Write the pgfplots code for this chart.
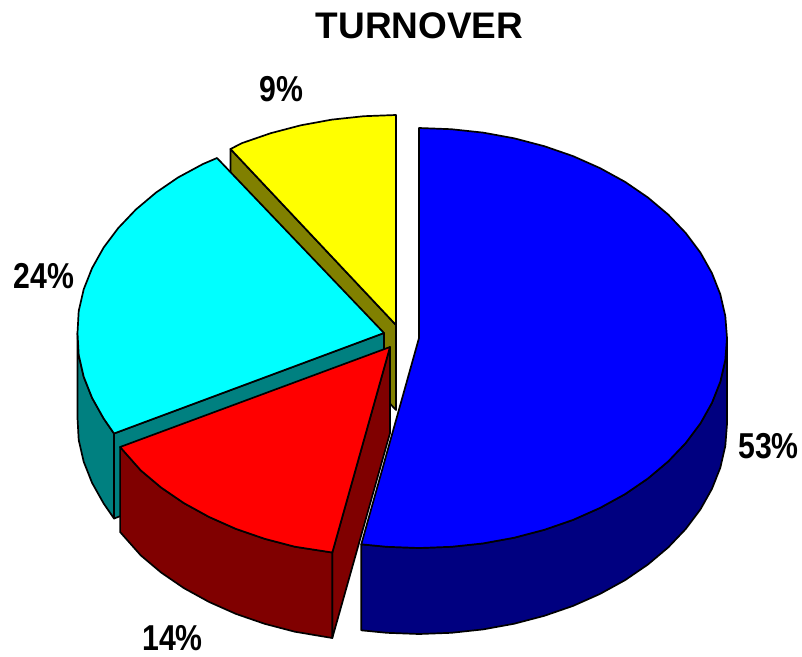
\documentclass[border=0pt]{standalone}
\usepackage{fontspec}
\setmainfont{Liberation Sans}
\usepackage{pgfplots}
\pgfplotsset{compat=1.18}
\definecolor{pblue}{HTML}{0000FF}
\definecolor{pnavy}{HTML}{000080}
\definecolor{pred}{HTML}{FF0000}
\definecolor{pmaroon}{HTML}{800000}
\definecolor{pcyan}{HTML}{00FFFF}
\definecolor{pteal}{HTML}{008080}
\definecolor{pyellow}{HTML}{FFFF00}
\definecolor{polive}{HTML}{808000}
\newcommand{\lab}[1]{\scalebox{.84}[1]{\bfseries\fontsize{36}{36}\selectfont #1}}
\begin{document}
\begin{tikzpicture}
\useasboundingbox (0,0) rectangle (802pt,656pt);
\begin{axis}[
  at={(0,0)}, anchor=south west,
  width=802pt, height=656pt, scale only axis,
  xmin=0, xmax=802, ymin=0, ymax=656, y dir=reverse,
  hide axis, clip=false,
  every axis plot/.append style={draw=black, line width=1.7pt, line join=round, mark=none},
]
% yellow 9%
\addplot[fill=polive] coordinates {(396,325) (230.5,149) (230.5,234) (396,410)} --cycle;
\addplot[fill=pyellow] coordinates {(396,325) (230.5,149) (242,143.1) (270.7,133.2) (300.8,125.3) (332,119.6) (363.8,116.2) (396,115)} --cycle;
% cyan 24%
\addplot[fill=pteal] coordinates {(114,433.5) (103.6,418.4) (92.1,397.9) (83.7,376.7) (78.7,354.95) (77.5,333) (77.5,418) (78.7,439.95) (83.7,461.7) (92.1,482.9) (103.6,503.4) (114,518.5)} --cycle;
\addplot[fill=pteal] coordinates {(384,333) (114,433.5) (114,518.5) (384,418)} --cycle;
\addplot[fill=pcyan] coordinates {(384,333) (114,433.5) (103.6,418.4) (92.1,397.9) (83.7,376.7) (78.7,354.95) (77.5,333) (78.7,311.05) (83.7,289.3) (92.1,268.1) (103.6,247.6) (118.3,228) (135.8,209.6) (156.1,192.5) (178,177.5) (203,164) (217,158)} --cycle;
% blue 53%
\addplot[fill=pnavy] coordinates {(727,338) (725.3,359.95) (720.3,381.7) (711.9,402.9) (700.4,423.4) (685.7,443) (668.2,461.4) (647.9,478.5) (625.1,494.1) (600,507.9) (573,519.9) (544.3,529.8) (514.2,537.7) (483,543.4) (451.2,546.8) (419,548) (386.8,546.8) (361.3,544.3) (361.3,630.3) (386.8,632.8) (419,634) (451.2,632.8) (483,629.4) (514.2,623.7) (544.3,615.8) (573,605.9) (600,593.9) (625.1,580.1) (647.9,564.5) (668.2,547.4) (685.7,529) (700.4,509.4) (711.9,488.9) (720.3,467.7) (725.3,445.95) (727,424)} --cycle;
\addplot[fill=pblue] coordinates {(419,338) (419,128) (451.2,129.2) (483,132.6) (514.2,138.3) (544.3,146.2) (573,156.1) (600,168.1) (625.1,181.9) (647.9,197.5) (668.2,214.6) (685.7,233) (700.4,252.6) (711.9,273.1) (720.3,294.3) (725.3,316.05) (727,338) (725.3,359.95) (720.3,381.7) (711.9,402.9) (700.4,423.4) (685.7,443) (668.2,461.4) (647.9,478.5) (625.1,494.1) (600,507.9) (573,519.9) (544.3,529.8) (514.2,537.7) (483,543.4) (451.2,546.8) (419,548) (386.8,546.8) (361.3,544.3)} --cycle;
% red 14%
\addplot[fill=pmaroon] coordinates {(390,347) (332.3,552.5) (332.3,638) (390,433)} --cycle;
\addplot[fill=pmaroon] coordinates {(332.3,552.5) (294.8,546.7) (264.7,538.8) (236,528.9) (209,516.9) (183.9,503.1) (161.1,487.5) (140.8,470.4) (120.1,447) (120.1,532) (140.8,555.4) (161.1,572.5) (183.9,588.1) (209,601.9) (236,613.9) (264.7,623.8) (294.8,631.7) (332.3,638)} --cycle;
\addplot[fill=pred] coordinates {(390,347) (332.3,552.5) (294.8,546.7) (264.7,538.8) (236,528.9) (209,516.9) (183.9,503.1) (161.1,487.5) (140.8,470.4) (120.1,447)} --cycle;
% labels
\node[inner sep=0pt] at (axis cs:419.5,26) {\bfseries\fontsize{37}{37}\selectfont TURNOVER};
\node[inner sep=0pt] at (axis cs:281.5,89) {\lab{9\%}};
\node[inner sep=0pt] at (axis cs:44,276) {\lab{24\%}};
\node[inner sep=0pt] at (axis cs:768.5,446) {\lab{53\%}};
\node[inner sep=0pt] at (axis cs:172.5,638) {\lab{14\%}};
\end{axis}
\end{tikzpicture}
\end{document}
